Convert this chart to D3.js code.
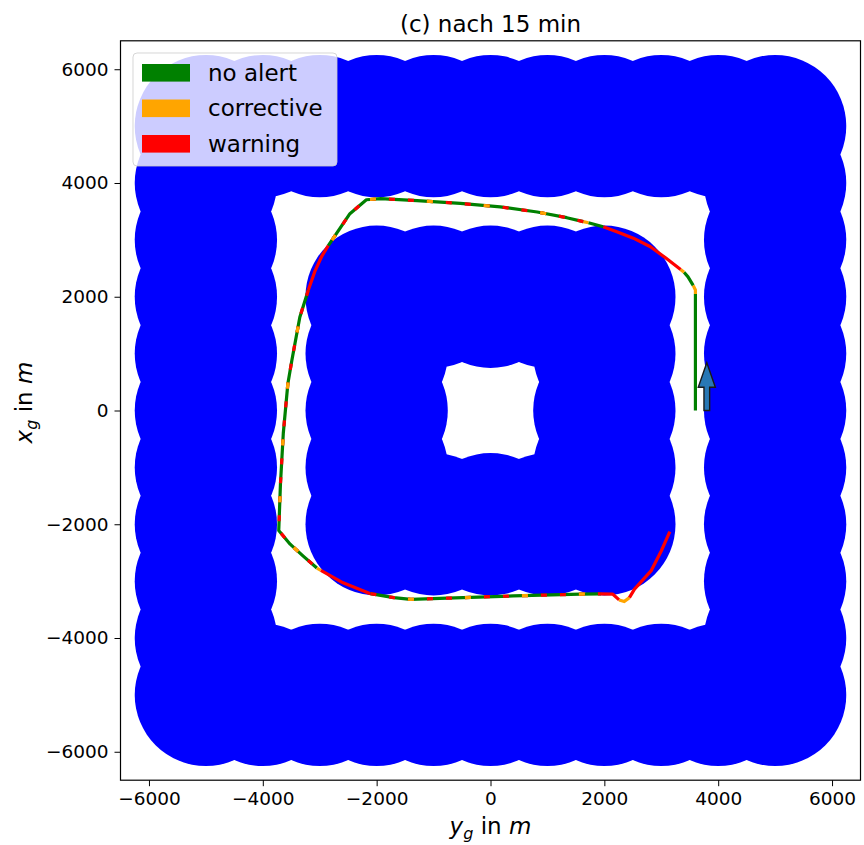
<!DOCTYPE html>
<html>
<head>
<meta charset="utf-8">
<script src="https://cdn.jsdelivr.net/npm/d3@7"></script>
<style>
  body { margin: 0; background: #fff; }
  svg { display: block; }
  text { font-family: "DejaVu Sans", sans-serif; fill: #000; }
</style>
</head>
<body>
<svg id="chart" width="864" height="845"></svg>
<script>
// ---- chart data -------------------------------------------------------
const titleText = "(c) nach 15 min";
const axisTicks = [-6000, -4000, -2000, 0, 2000, 4000, 6000];
const axisDomain = [-6500, 6500];

// no-fly zone centres [y_g, x_g] in m, all with the same radius
const zoneRadius = 1250;
const zoneCentres = [
  // outer ring, top row
  [-5000, 5000], [-4000, 5000], [-3000, 5000], [-2000, 5000], [-1000, 5000], [0, 5000],
  [1000, 5000], [2000, 5000], [3000, 5000], [4000, 5000], [5000, 5000],
  // outer ring, bottom row
  [-5000, -5000], [-4000, -5000], [-3000, -5000], [-2000, -5000], [-1000, -5000], [0, -5000],
  [1000, -5000], [2000, -5000], [3000, -5000], [4000, -5000], [5000, -5000],
  // outer ring, left column
  [-5000, 4000], [-5000, 3000], [-5000, 2000], [-5000, 1000], [-5000, 0],
  [-5000, -1000], [-5000, -2000], [-5000, -3000], [-5000, -4000],
  // outer ring, right column
  [5000, 4000], [5000, 3000], [5000, 2000], [5000, 1000], [5000, 0],
  [5000, -1000], [5000, -2000], [5000, -3000], [5000, -4000],
  // inner ring
  [-2000, 2000], [-1000, 2000], [0, 2000], [1000, 2000], [2000, 2000],
  [-2000, -2000], [-1000, -2000], [0, -2000], [1000, -2000], [2000, -2000],
  [-2000, 1000], [-2000, 0], [-2000, -1000],
  [2000, 1000], [2000, 0], [2000, -1000]
];

// flown track (y_g, x_g) in m
const trackYg = [3600, 3600, 3600, 3560, 3470, 3400, 3340, 3080, 2810, 2510, 2230, 1980, 1720, 1630,
  1340, 820, 170, -530, -1290, -1930, -2180, -2470, -2850,
  -2960, -3080, -3200,
  -3350, -3490, -3560, -3640, -3690, -3720,
  -3520, -3290, -3050, -2980,
  -2590, -2110,
  -1700, -1400, -760, 400, 1580, 1940,
  2150, 2260, 2350, 2440, 2530, 2820, 3000, 3150];
const trackXg = [0, 2050, 2120, 2200, 2350, 2430, 2480, 2680, 2880, 3030, 3140, 3230, 3300, 3320,
  3390, 3490, 3580, 3640, 3690, 3725, 3705, 3460, 2900,
  2720, 2460, 2120,
  1640, 880, 470, -400, -1290, -2110,
  -2350, -2560, -2770, -2810,
  -3030, -3220,
  -3290, -3320, -3300, -3260, -3230, -3225,
  -3230, -3330, -3360, -3290, -3140, -2820, -2470, -2130];
// alert state on each leg between consecutive track points:
// G no alert, O corrective, R warning, M no alert with flickering warning/corrective steps
const legState = ["G", "O", "O", "G", "G", "O", "R", "R", "R", "R", "R", "G", "O",
  "M", "M", "M", "M", "M", "M", "M", "M", "M",
  "R", "R", "R",
  "M", "M", "M", "M", "M", "M",
  "M", "M", "M", "O",
  "R", "R",
  "M", "M", "M", "M", "M", "M",
  "R", "R", "O", "O", "R", "R", "R", "R"];

// heading arrow
const arrowYg = 3800, arrowLength = 840, arrowHeadLength = 430, arrowWidth = 100, arrowHeadWidth = 300;

const legendLabels = ["no alert", "corrective", "warning"];
const legendColours = ["#008000", "#ffa500", "#ff0000"];

// ---- layout -----------------------------------------------------------
const plot = { left: 120.5, right: 860.5, top: 40.8, bottom: 780.2 };
const svg = d3.select("#chart");

const x = d3.scaleLinear().domain(axisDomain).range([plot.left, plot.right]);
const y = d3.scaleLinear().domain(axisDomain).range([plot.bottom, plot.top]);

svg.append("defs").append("clipPath").attr("id", "plotClip")
  .append("rect")
  .attr("x", plot.left).attr("y", plot.top)
  .attr("width", plot.right - plot.left).attr("height", plot.bottom - plot.top);

const area = svg.append("g").attr("clip-path", "url(#plotClip)");

// no-fly zones
const rPx = x(zoneRadius) - x(0);
area.append("g").selectAll("circle")
  .data(zoneCentres)
  .join("circle")
  .attr("cx", d => x(d[0]))
  .attr("cy", d => y(d[1]))
  .attr("r", rPx)
  .attr("fill", "#0000ff");

// track, grouped into runs of equal alert state
const runs = [];
legState.forEach((s, i) => {
  const last = runs[runs.length - 1];
  if (last && last.s === s) last.idx.push(i + 1);
  else runs.push({ s, idx: [i, i + 1] });
});
const trackLine = d3.line().x(i => x(trackYg[i])).y(i => y(trackXg[i]));
const stateColour = { G: "#008000", O: "#ffa500", R: "#ff0000" };
const trackG = area.append("g").attr("fill", "none").attr("stroke-width", 3.2);
runs.forEach(run => {
  const d = trackLine(run.idx);
  if (run.s === "M") {
    trackG.append("path").attr("d", d).attr("stroke", "#008000").attr("stroke-linejoin", "round");
    trackG.append("path").attr("d", d).attr("stroke", "#ff0000").attr("stroke-dasharray", "6 13");
    trackG.append("path").attr("d", d).attr("stroke", "#ffa500")
      .attr("stroke-dasharray", "6 51").attr("stroke-dashoffset", 19);
  } else {
    trackG.append("path").attr("d", d).attr("stroke", stateColour[run.s])
      .attr("stroke-linejoin", "round");
  }
});

// heading arrow
const shaftTop = arrowLength - arrowHeadLength;
const arrowPts = [
  [arrowYg - arrowWidth / 2, 0],
  [arrowYg - arrowWidth / 2, shaftTop],
  [arrowYg - arrowHeadWidth / 2, shaftTop],
  [arrowYg, arrowLength],
  [arrowYg + arrowHeadWidth / 2, shaftTop],
  [arrowYg + arrowWidth / 2, shaftTop],
  [arrowYg + arrowWidth / 2, 0]
];
area.append("polygon")
  .attr("points", arrowPts.map(p => [x(p[0]), y(p[1])].join(",")).join(" "))
  .attr("fill", "#2878b5")
  .attr("stroke", "#1a1a1a")
  .attr("stroke-width", 1.4)
  .attr("stroke-linejoin", "miter");

// axes
const tickFmt = d3.format("d");
const xAxis = svg.append("g")
  .attr("transform", `translate(0,${plot.bottom})`)
  .call(d3.axisBottom(x).tickValues(axisTicks).tickFormat(tickFmt)
    .tickSize(6).tickPadding(6).tickSizeOuter(0));
const yAxis = svg.append("g")
  .attr("transform", `translate(${plot.left},0)`)
  .call(d3.axisLeft(y).tickValues(axisTicks).tickFormat(tickFmt)
    .tickSize(6).tickPadding(6).tickSizeOuter(0));
[xAxis, yAxis].forEach(a => {
  a.select(".domain").remove();
  a.selectAll("line").attr("stroke", "#000").attr("stroke-width", 1);
  a.selectAll("text").attr("font-size", 18.5).attr("font-family", "DejaVu Sans").attr("fill", "#000");
});

// frame
svg.append("rect")
  .attr("x", plot.left).attr("y", plot.top)
  .attr("width", plot.right - plot.left).attr("height", plot.bottom - plot.top)
  .attr("fill", "none").attr("stroke", "#000").attr("stroke-width", 1.2);

// legend
const lg = svg.append("g");
lg.append("rect")
  .attr("x", 133).attr("y", 53).attr("width", 204).attr("height", 113)
  .attr("rx", 4).attr("ry", 4)
  .attr("fill", "#fff").attr("fill-opacity", 0.8)
  .attr("stroke", "#cccccc").attr("stroke-opacity", 0.8).attr("stroke-width", 1);
legendLabels.forEach((lab, i) => {
  const cy = 72.8 + i * 35.5;
  lg.append("rect")
    .attr("x", 142).attr("y", cy - 8.8).attr("width", 48).attr("height", 17.6)
    .attr("fill", legendColours[i]);
  lg.append("text")
    .attr("x", 208).attr("y", cy + 8)
    .attr("font-size", 23)
    .text(lab);
});

// title
svg.append("text")
  .attr("x", (plot.left + plot.right) / 2).attr("y", 32)
  .attr("text-anchor", "middle").attr("font-size", 23)
  .text(titleText);

// axis labels
const xl = svg.append("text")
  .attr("x", (plot.left + plot.right) / 2).attr("y", 834)
  .attr("text-anchor", "middle").attr("font-size", 23);
xl.append("tspan").attr("font-style", "italic").text("y");
xl.append("tspan").attr("font-style", "italic").attr("font-size", 16).attr("dy", 5).text("g");
xl.append("tspan").attr("dy", -5).text(" in ");
xl.append("tspan").attr("font-style", "italic").text("m");

const yl = svg.append("text")
  .attr("transform", `translate(32,${(plot.top + plot.bottom) / 2 - 8}) rotate(-90)`)
  .attr("text-anchor", "middle").attr("font-size", 23);
yl.append("tspan").attr("font-style", "italic").text("x");
yl.append("tspan").attr("font-style", "italic").attr("font-size", 16).attr("dy", 5).text("g");
yl.append("tspan").attr("dy", -5).text(" in ");
yl.append("tspan").attr("font-style", "italic").text("m");
</script>
</body>
</html>
